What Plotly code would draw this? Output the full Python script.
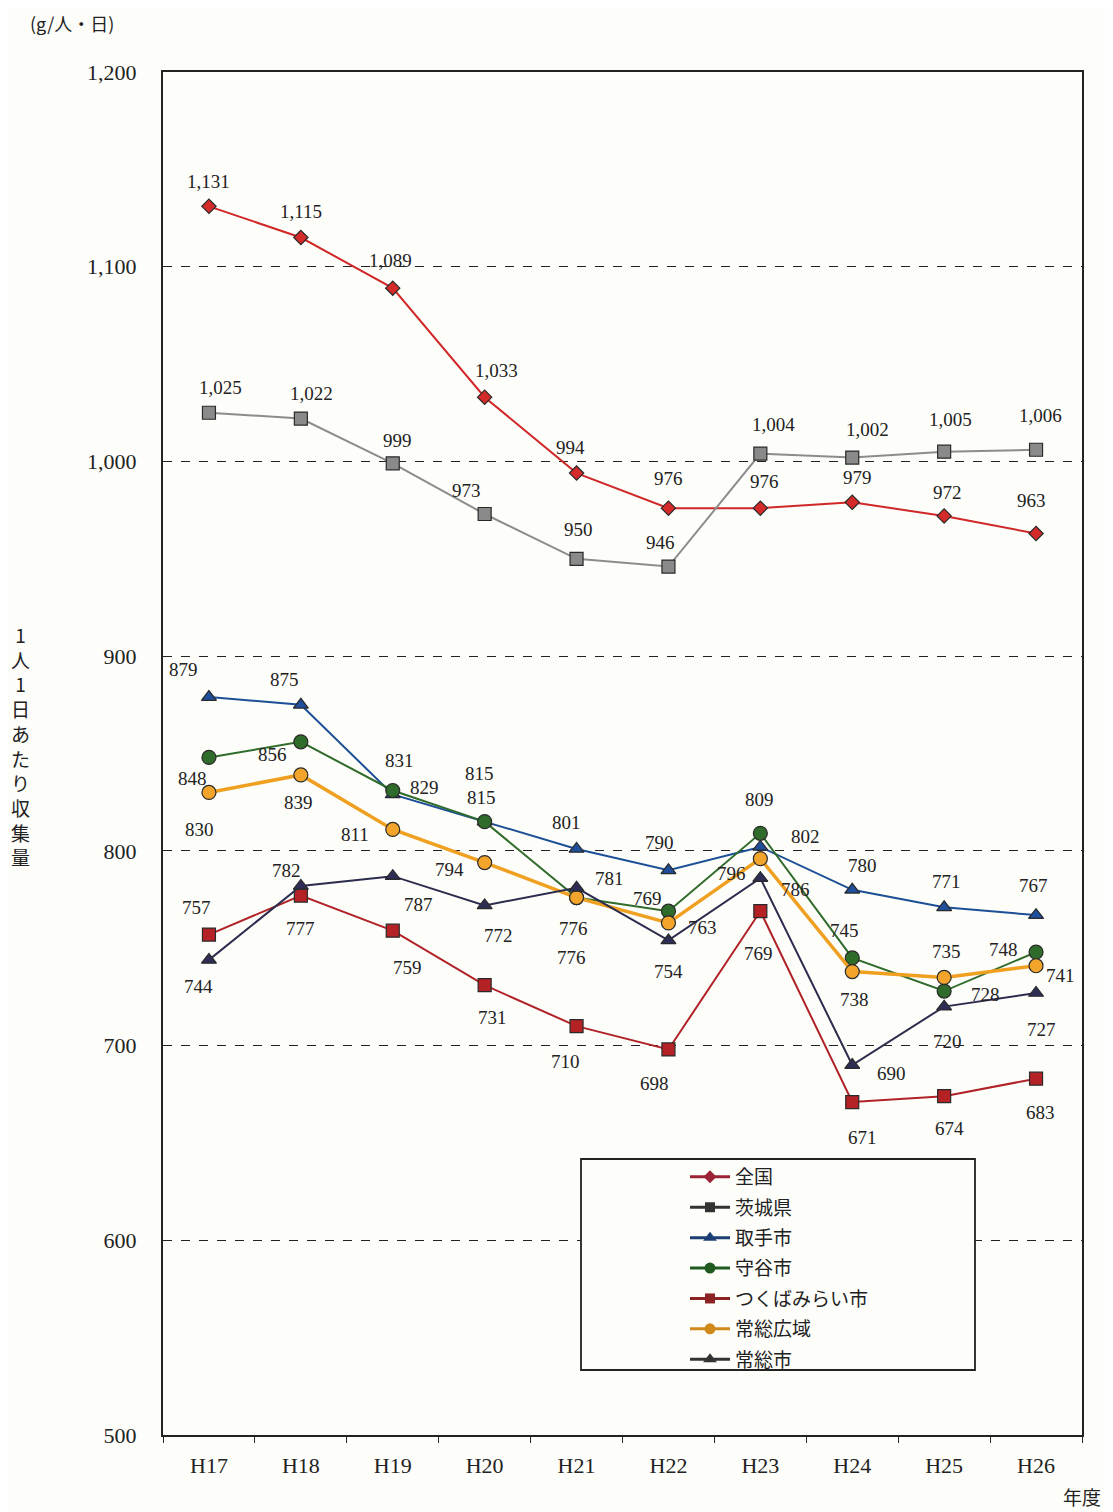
import plotly.graph_objects as go

years = ["H17", "H18", "H19", "H20", "H21", "H22", "H23", "H24", "H25", "H26"]

zenkoku = [1131, 1115, 1089, 1033, 994, 976, 976, 979, 972, 963]
ibaraki = [1025, 1022, 999, 973, 950, 946, 1004, 1002, 1005, 1006]
toride = [879, 875, 829, 815, 801, 790, 802, 780, 771, 767]
moriya = [848, 856, 831, 815, 776, 769, 809, 745, 728, 748]
tsukubamirai = [757, 777, 759, 731, 710, 698, 769, 671, 674, 683]
joso_kouiki = [830, 839, 811, 794, 776, 763, 796, 738, 735, 741]
joso = [744, 782, 787, 772, 781, 754, 786, 690, 720, 727]

names = ["全国", "茨城県", "取手市", "守谷市", "つくばみらい市", "常総広域", "常総市"]
series = [zenkoku, ibaraki, toride, moriya, tsukubamirai, joso_kouiki, joso]

# styles
line_colors = ["#d02828", "#8c8c8c", "#1c4f96", "#2f6b2a", "#b02226", "#f0a020", "#2c2c4e"]
marker_colors = ["#d42a2a", "#8a8a8a", "#1f4e9a", "#2f6b2a", "#b52226", "#f2a52a", "#2d2d55"]
legend_colors = ["#9b2335", "#333333", "#1c3f73", "#215a1f", "#8c2323", "#d08a1c", "#333333"]
symbols = ["diamond", "square", "triangle-up", "circle", "square", "circle", "triangle-up"]
marker_sizes = [11, 13, 13, 14, 13, 14, 13]
legend_marker_sizes = [10, 10, 12, 11, 10, 11, 12]
line_widths = [2, 2, 2, 2, 2, 3.5, 2]

# label pixel offsets (dx, dy) relative to each point (screen px, dy positive = down)
offsets = [
    [(0, -25), (0, -26), (-2, -28), (12, -27), (-6, -26), (0, -30), (4, -27), (5, -25), (3, -23), (-5, -33)],
    [(12, -25), (11, -25), (5, -23), (-18, -24), (2, -29), (-8, -24), (13, -29), (15, -28), (6, -32), (4, -34)],
    [(-25, -28), (-16, -25), (32, -7), (-5, -48), (-10, -26), (-9, -28), (45, -10), (10, -24), (2, -26), (-3, -30)],
    [(-16, 21), (-28, 13), (7, -30), (-3, -24), (-5, 60), (-21, -13), (-1, -34), (-8, -27), (41, 3), (-33, -3)],
    [(-12, -27), (0, 33), (15, 37), (8, 32), (-11, 35), (-14, 34), (-2, 42), (10, 35), (5, 32), (4, 34)],
    [(-9, 37), (-2, 28), (-38, 5), (-35, 7), (-3, 31), (34, 5), (-29, 15), (2, 28), (2, -26), (24, 10)],
    [(-10, 27), (-14, -15), (26, 28), (14, 30), (33, -9), (0, 31), (35, 11), (39, 8), (3, 35), (5, 36)],
]

serif = "Liberation Serif, Noto Sans CJK JP, serif"

fig = go.Figure()
for i, (name, vals) in enumerate(zip(names, series)):
    fig.add_trace(go.Scatter(
        x=years, y=vals, name=name, mode="lines+markers",
        legendgroup=name,
        line=dict(color=line_colors[i], width=line_widths[i]),
        marker=dict(symbol=symbols[i], size=marker_sizes[i], color=marker_colors[i],
                    line=dict(color="#2a2a2a", width=1.2)),
        showlegend=False,
    ))
    # legend proxy
    fig.add_trace(go.Scatter(
        x=[None], y=[None], name=name, mode="lines+markers",
        legendgroup=name,
        line=dict(color=legend_colors[i], width=3),
        marker=dict(symbol=symbols[i], size=legend_marker_sizes[i], color=legend_colors[i]),
        showlegend=True,
    ))
    for j, v in enumerate(vals):
        dx, dy = offsets[i][j]
        fig.add_annotation(x=years[j], y=v, text=f"{v:,}", showarrow=False,
                           xshift=dx, yshift=-dy,
                           font=dict(family="Liberation Serif, DejaVu Serif, serif", size=19, color="#222"))

# page has an 8px body margin: the figure is placed at (8, 8)
OFF = 8
L, T, R, B = 163 - OFF, 72 - OFF, 31, 77
W, H = 1113 - OFF, 1512 - OFF
PW, PH = 919, 1363
px = lambda x: (x - 163) / PW
py = lambda y: (1435 - y) / PH

fig.update_layout(
    width=W, height=H,
    margin=dict(l=L, r=R, t=T, b=B),
    paper_bgcolor="#fdfdfa", plot_bgcolor="#fdfdfa",
    font=dict(family=serif, size=18, color="#222"),
    legend=dict(x=px(685), y=py(1158), xanchor="left", yanchor="top",
                bgcolor="rgba(0,0,0,0)", borderwidth=0,
                font=dict(family="Noto Sans CJK JP", size=19, color="#222"),
                tracegroupgap=2.7, itemwidth=40),
    xaxis=dict(range=[-0.5, 9.5], showgrid=False, showline=True, linecolor="#222",
               linewidth=2, mirror=True, ticks="outside", tickson="boundaries",
               ticklen=6, tickcolor="#222", tickfont=dict(family=serif, size=22),
               ticklabelstandoff=10),
    yaxis=dict(range=[500, 1200], dtick=100, tickformat=",", showgrid=True,
               gridcolor="#222", gridwidth=1.3, griddash="dash",
               showline=True, linecolor="#222", linewidth=2, mirror=True,
               ticks="", tickfont=dict(family=serif, size=22), ticklabelstandoff=20,
               zeroline=False),
)

# legend frame (covers gridlines like the reference)
fig.add_shape(type="rect", xref="paper", yref="paper",
              x0=px(581), x1=px(975), y0=py(1370), y1=py(1159),
              line=dict(color="#222", width=1.8), fillcolor="#fdfdfa", layer="above")

fig.add_annotation(xref="paper", yref="paper", x=px(72), y=py(23),
                   text="(g/人・日)", showarrow=False, xanchor="center", yanchor="middle",
                   font=dict(family="Noto Sans CJK JP", size=18, color="#222"))
fig.add_annotation(xref="paper", yref="paper", x=px(20), y=py(745),
                   text="<br>".join(list("1人1日あたり収集量")), showarrow=False,
                   xanchor="center", yanchor="middle",
                   font=dict(family="Noto Sans CJK JP", size=19, color="#222"))
fig.add_annotation(xref="paper", yref="paper", x=px(1082), y=py(1497),
                   text="年度", showarrow=False, xanchor="center", yanchor="middle",
                   font=dict(family="Noto Sans CJK JP", size=19, color="#222"))

fig.write_html("out.html")
